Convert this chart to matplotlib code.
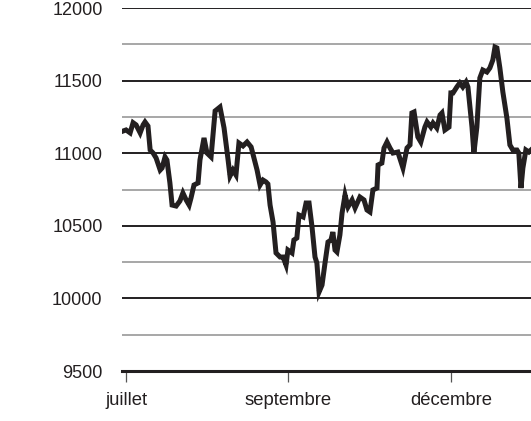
import matplotlib
matplotlib.use("Agg")
import matplotlib.pyplot as plt
from matplotlib.ticker import MultipleLocator

plt.rcParams['font.family'] = ['Liberation Sans', 'DejaVu Sans']

# jours depuis le début de juillet (positions approximatives des points)
jours = [-1.5, 0.0, 1.5, 2.6, 3.7, 5.2, 6.3, 7.0, 8.1, 8.9, 10.0, 11.1, 12.6, 13.3,
         14.4, 15.1, 16.2, 17.0, 18.5, 19.9, 21.0, 22.2, 23.3, 24.0, 25.1, 26.6,
         27.3, 28.8, 29.9, 31.4, 32.9, 34.7, 36.2, 37.7, 38.4, 39.5, 40.6, 41.7,
         43.2, 44.7, 46.2, 48.4, 49.5, 50.6, 51.7, 52.4, 53.2, 54.3, 55.4, 56.9,
         58.0, 59.1, 59.8, 61.3, 62.0, 63.1, 63.9, 65.4, 66.5, 67.6, 68.7, 69.8,
         70.5, 71.3, 72.4, 73.5, 74.6, 75.7, 76.4, 77.2, 77.9, 79.0, 79.8, 80.9,
         82.0, 83.5, 84.6, 86.4, 87.9, 89.0, 90.1, 91.2, 92.7, 93.1, 94.5, 95.3,
         96.4, 97.5, 98.6, 100.4, 102.3, 103.8, 104.9, 105.6, 106.4, 107.8, 108.9,
         110.4, 111.2, 112.6, 113.4, 114.8, 116.0, 116.7, 117.8, 119.3, 120.0,
         120.8, 122.2, 123.3, 124.4, 125.6, 126.3, 127.8, 128.5, 129.6, 130.7,
         131.8, 133.3, 134.4, 135.5, 136.3, 137.0, 138.1, 139.2, 140.7, 141.8,
         142.9, 144.4, 145.1, 145.9, 146.6, 147.7, 148.8, 149.6]

indice = [11150, 11160, 11140, 11210, 11195, 11140, 11195, 11215, 11187, 11022,
          11001, 10967, 10884, 10898, 10974, 10953, 10795, 10643, 10636, 10671,
          10726, 10678, 10643, 10692, 10781, 10795, 10953, 11105, 11001, 10974,
          11291, 11318, 11174, 10953, 10843, 10884, 10850, 11070, 11050, 11077,
          11043, 10884, 10781, 10815, 10802, 10788, 10643, 10526, 10313, 10285,
          10285, 10230, 10333, 10313, 10402, 10416, 10574, 10561, 10657, 10657,
          10492, 10285, 10244, 10044, 10092, 10244, 10388, 10402, 10457, 10333,
          10320, 10437, 10588, 10712, 10630, 10678, 10623, 10698, 10678, 10609,
          10595, 10747, 10760, 10919, 10932, 11036, 11077, 11036, 11001, 11008,
          10898, 11036, 11057, 11277, 11284, 11112, 11077, 11180, 11215, 11180,
          11208, 11174, 11263, 11277, 11160, 11180, 11415, 11415, 11456, 11484,
          11456, 11490, 11456, 11180, 11000, 11180, 11518, 11573, 11559, 11587,
          11642, 11731, 11725, 11587, 11422, 11242, 11057, 11022, 11022, 11001,
          10760, 10898, 11022, 11008, 11022]

mois_pos = [0, 60, 120]
mois = ['juillet', 'septembre', 'décembre']

noir = '#231f20'

fig = plt.figure(figsize=(5.31, 4.21), dpi=100)
ax = fig.add_axes([122 / 531, 1 - 371 / 421, 1 - 122 / 531, 363 / 421])

ax.plot(jours, indice, color=noir, lw=3.6, solid_joinstyle='miter', zorder=3)

ax.set_xlim(-1.5, 149.6)
ax.set_ylim(9500, 12000)
ax.yaxis.set_major_locator(MultipleLocator(500))
ax.yaxis.set_minor_locator(MultipleLocator(250))
ax.grid(which='major', axis='y', color=noir, lw=1.4)
ax.grid(which='minor', axis='y', color='#8f8f8f', lw=1.1)
ax.set_axisbelow(True)

for s in ['top', 'right', 'left']:
    ax.spines[s].set_visible(False)
ax.spines['bottom'].set_color(noir)
ax.spines['bottom'].set_linewidth(2.2)

ax.set_xticks(mois_pos)
ax.set_xticklabels(mois)
ax.tick_params(axis='x', length=8, width=0.9, color='#555555', pad=7,
               labelsize=13.3, labelcolor=noir)
ax.tick_params(axis='y', which='both', length=0, pad=14, labelsize=13,
               labelcolor=noir)

fig.savefig('out.png', dpi=100)
